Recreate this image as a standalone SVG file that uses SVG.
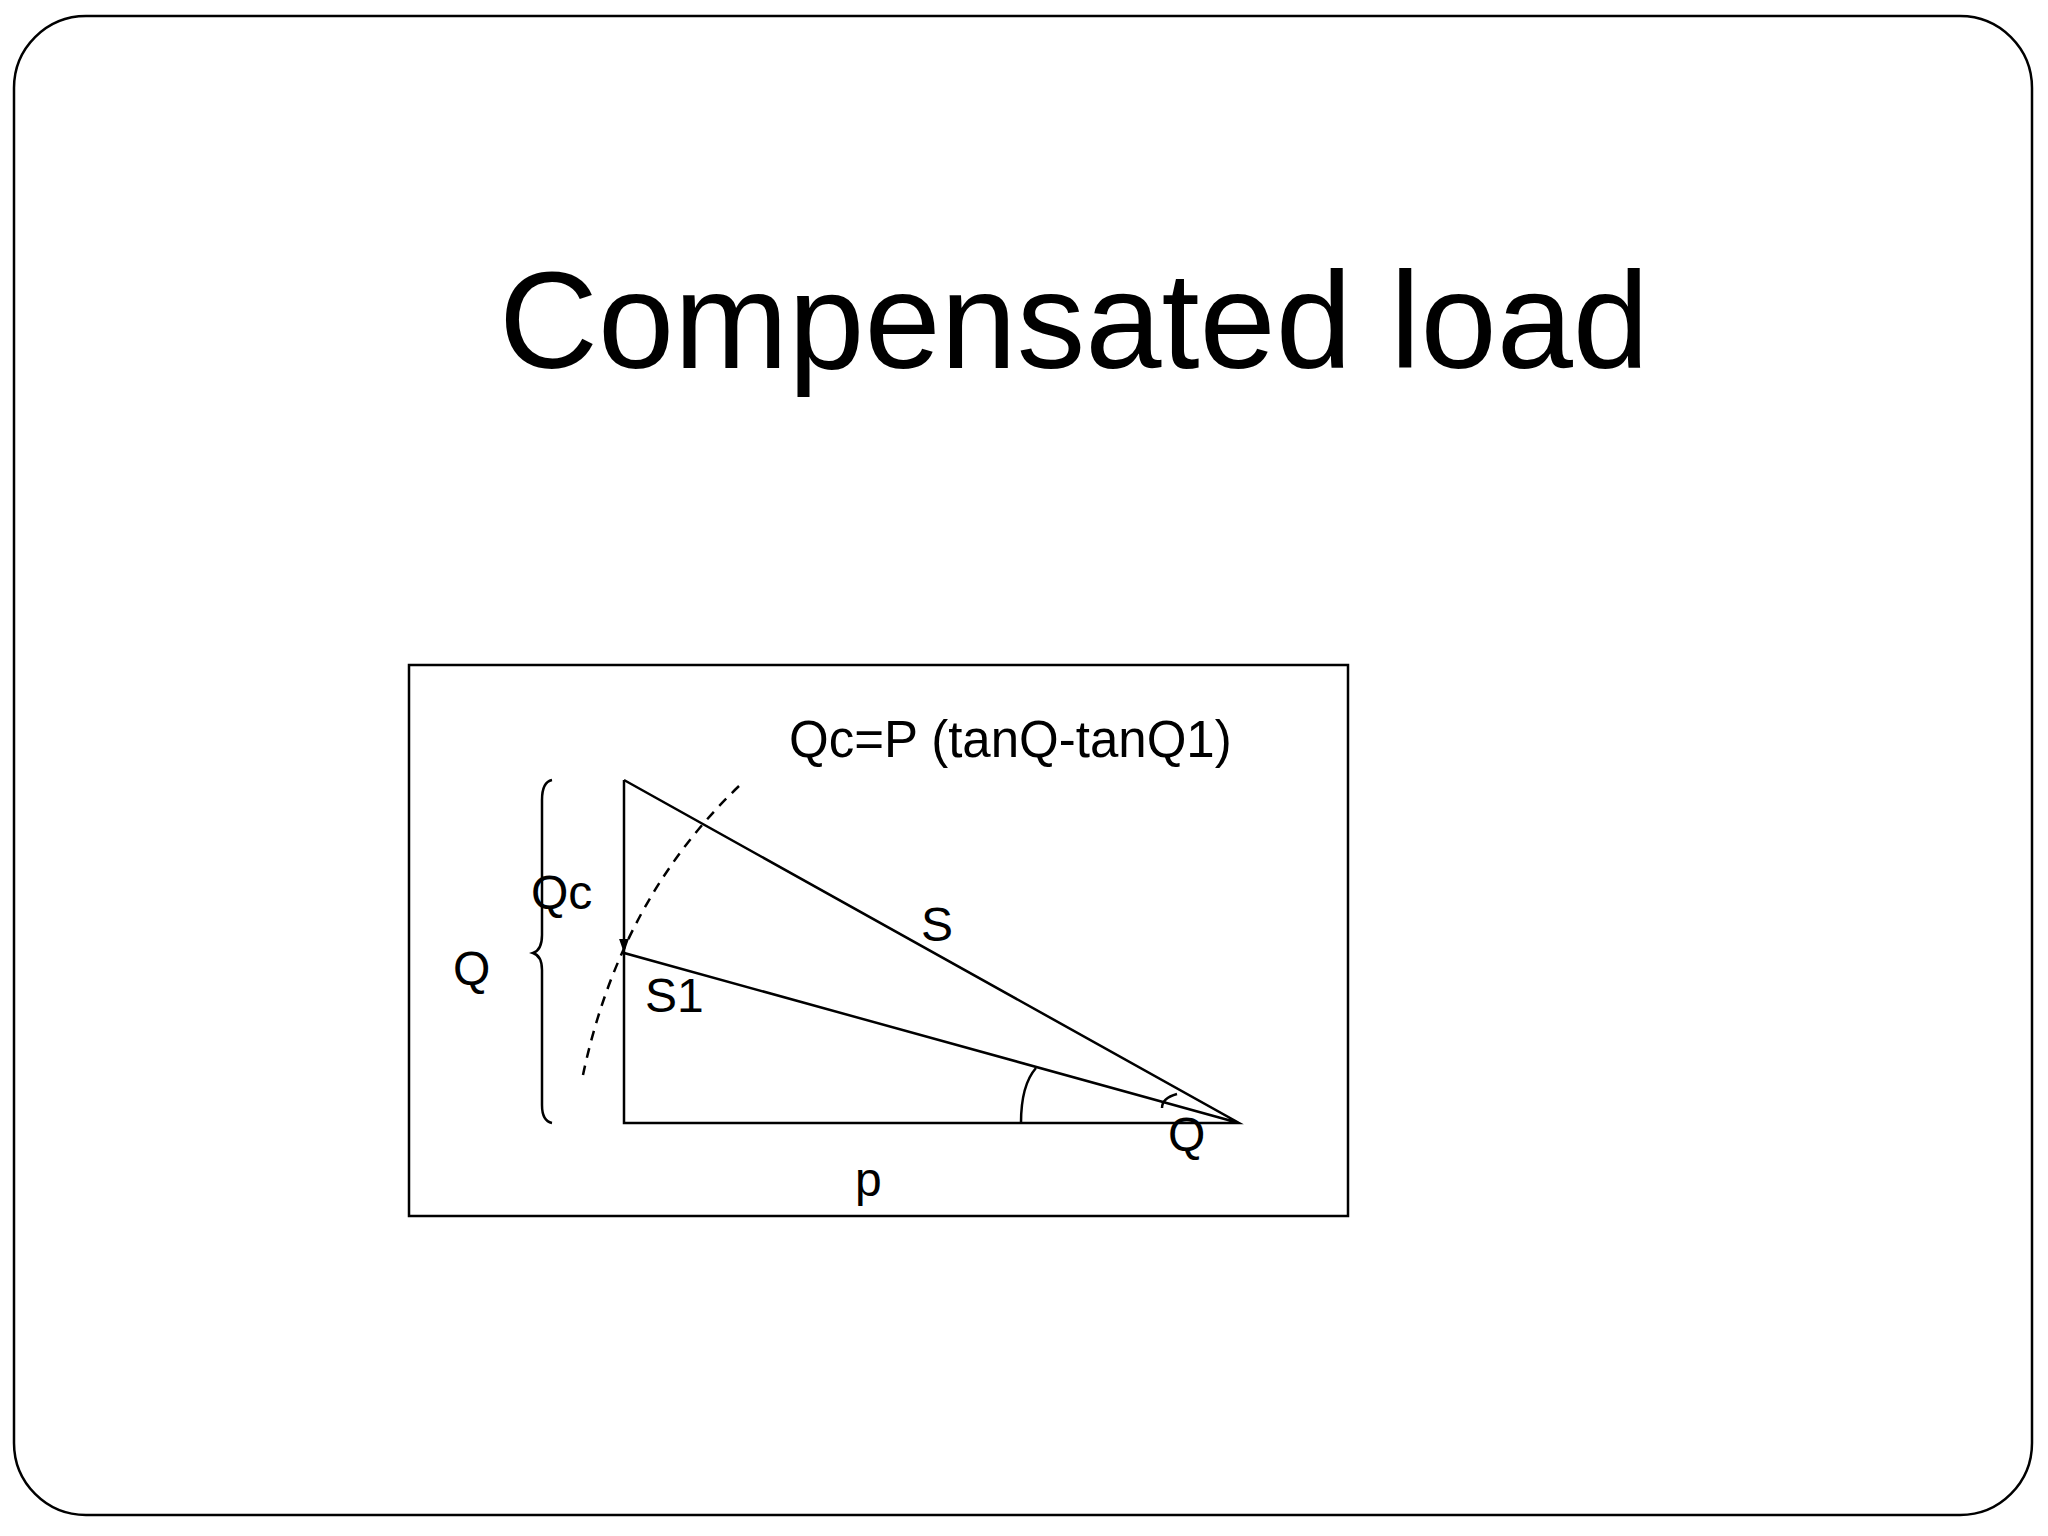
<svg xmlns="http://www.w3.org/2000/svg" width="2048" height="1536" viewBox="0 0 2048 1536">
<style>
.l{fill:none;stroke:#000;stroke-width:2.5}
.t{font-family:"Liberation Sans",Arial,sans-serif;fill:#000}
</style>
<defs><marker id="a" markerWidth="14" markerHeight="20" refX="20" refY="7" orient="auto" markerUnits="userSpaceOnUse" viewBox="0 0 20 14"><path d="M0 0L20 7L0 14z" fill="#000"/></marker></defs>
<rect width="2048" height="1536" fill="#fff"/>
<rect x="14" y="16" width="2018" height="1499" rx="72" class="l"/>
<text class="t" x="1074" y="368" font-size="137" text-anchor="middle">Compensated load</text>
<rect x="409" y="665" width="939" height="551" class="l"/>
<g id="triangle">
<path class="l" d="M624 780L1239 1123L624 1123L624 953L1239 1123"/>
</g>
<g id="connectors">
<line class="l" x1="624" y1="780" x2="624" y2="953" marker-end="url(#a)"/>
<path class="l" stroke-dasharray="10 8" d="M739 786Q620 900 583 1075"/>
<path class="l" d="M552 780Q542 782 542 800L542 935Q542 950 533 953Q542 956 542 970L542 1105Q542 1121 552 1123"/>
<path class="l" d="M1021 1123Q1021 1085 1036 1068"/>
<path class="l" d="M1162 1108Q1162 1098 1177 1094"/>
</g>
<g id="labels" class="t" font-size="48">
<text x="789" y="757" font-size="51">Qc=P (tanQ-tanQ1)</text>
<text x="531" y="909">Qc</text>
<text x="921" y="941">S</text>
<text x="453" y="985">Q</text>
<text x="645" y="1012">S1</text>
<text x="1168" y="1151">Q</text>
<text x="855" y="1196">p</text>
</g>
</svg>
